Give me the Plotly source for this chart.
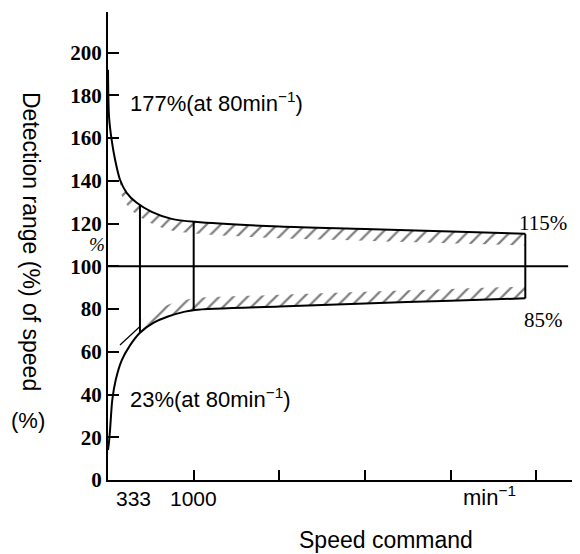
import numpy as np
import plotly.graph_objects as go

# ---- data ----
upper_x = [0, 12, 43, 82, 140, 218, 335, 510, 743, 1015, 2000, 3000, 4000, 4870]
upper_y = [192, 170, 159, 150, 140.5, 134.4, 129.7, 125.5, 122.2, 120.8, 118.6, 117.5, 116.3, 115.2]

lower_x = [0, 12, 25, 50, 90, 160, 257, 373, 529, 700, 898, 1015, 2000, 3000, 4000, 4870]
lower_y = [14, 18, 24, 37.5, 46.8, 56, 63, 68.9, 73.5, 76.5, 78.8, 79.6, 81.2, 82.6, 83.9, 85.0]

divider_x = [373, 1000, 4870]          # vertical boundary lines (speed command)
reference_level = 100                   # 100 % line
reference_x_end = 5370
hatch_upper_start = 140
hatch_lower_start = 373
hatch_band = 5.5                        # hatch band width (% units)
guide_x = [140, 373]
guide_y = [63.2, 71.8]

y_ticks = [0, 20, 40, 60, 80, 100, 120, 140, 160, 180, 200]
x_ticks = [1000, 2000, 3000, 4000, 5000]
x_tick_text = {"333": 292, "1000": 1000}

X_RANGE = [0, 5450]
Y_RANGE = [0, 219]

SANS = "Liberation Sans, Arial, sans-serif"
SERIF = "Liberation Serif, Times New Roman, serif"

fig = go.Figure()

ux = np.array(upper_x, float); uy = np.array(upper_y, float)
lx = np.array(lower_x, float); ly = np.array(lower_y, float)

hatch = dict(shape="/", fgcolor="black", bgcolor="rgba(0,0,0,0)", size=10, solidity=0.22)

# hatched band below the upper curve
m = ux >= hatch_upper_start
fig.add_trace(go.Scatter(x=ux[m], y=uy[m], mode="lines", line=dict(width=0, shape="spline"),
                         hoverinfo="skip", showlegend=False))
fig.add_trace(go.Scatter(x=ux[m], y=uy[m] - hatch_band, mode="lines",
                         line=dict(width=0, shape="spline"), fill="tonexty",
                         fillcolor="rgba(0,0,0,0)", fillpattern=hatch,
                         hoverinfo="skip", showlegend=False))
# hatched band above the lower curve
m2 = lx >= hatch_lower_start
fig.add_trace(go.Scatter(x=lx[m2], y=ly[m2], mode="lines", line=dict(width=0, shape="spline"),
                         hoverinfo="skip", showlegend=False))
fig.add_trace(go.Scatter(x=lx[m2], y=ly[m2] + hatch_band, mode="lines",
                         line=dict(width=0, shape="spline"), fill="tonexty",
                         fillcolor="rgba(0,0,0,0)", fillpattern=hatch,
                         hoverinfo="skip", showlegend=False))

# curves
fig.add_trace(go.Scatter(x=ux, y=uy, mode="lines", line=dict(color="black", width=2, shape="spline", smoothing=0.8),
                         hoverinfo="skip", showlegend=False))
fig.add_trace(go.Scatter(x=lx, y=ly, mode="lines", line=dict(color="black", width=2, shape="spline", smoothing=0.8),
                         hoverinfo="skip", showlegend=False))
# guide line lower left
fig.add_trace(go.Scatter(x=guide_x, y=guide_y, mode="lines", line=dict(color="black", width=1.2),
                         hoverinfo="skip", showlegend=False))
# vertical dividers
for dx in divider_x:
    top = float(np.interp(dx, ux, uy)); bot = float(np.interp(dx, lx, ly))
    fig.add_trace(go.Scatter(x=[dx, dx], y=[bot, top], mode="lines", line=dict(color="black", width=2),
                             hoverinfo="skip", showlegend=False))
# 100 % line
fig.add_trace(go.Scatter(x=[0, reference_x_end], y=[reference_level, reference_level], mode="lines",
                         line=dict(color="black", width=2), hoverinfo="skip", showlegend=False))

# page has an 8px body margin; figure is sized so that it fills the 580x554 window
OFF = 8
L, R, T, B = 108 - OFF, 5, 12 - OFF, 74
W, H = 580 - OFF, 554 - OFF
pw, ph = W - L - R, H - T - B
def px(xp): return (xp - 108) / pw          # page pixel -> paper x
def py(yp): return (480 - yp) / ph          # page pixel -> paper y

ann = []
ann.append(dict(x=233, y=177, xref="x", yref="y", text="177%(at 80min<sup>−1</sup>)", showarrow=False,
                xanchor="left", yanchor="middle", font=dict(family=SANS, size=22, color="black")))
ann.append(dict(x=233, y=38.4, xref="x", yref="y", text="23%(at 80min<sup>−1</sup>)", showarrow=False,
                xanchor="left", yanchor="middle", font=dict(family=SANS, size=22, color="black")))
ann.append(dict(x=4772, y=120.4, xref="x", yref="y", text="115%", showarrow=False,
                xanchor="left", yanchor="middle", font=dict(family=SERIF, size=21, color="black")))
ann.append(dict(x=4831, y=75, xref="x", yref="y", text="85%", showarrow=False,
                xanchor="left", yanchor="middle", font=dict(family=SERIF, size=21, color="black")))
ann.append(dict(x=px(97), y=py(244), xref="paper", yref="paper", text="<i>%</i>", showarrow=False,
                xanchor="center", yanchor="middle", font=dict(family=SERIF, size=19, color="black")))
for t, v in x_tick_text.items():
    ann.append(dict(x=v, y=py(498), xref="x", yref="paper", text=t, showarrow=False,
                    xanchor="center", yanchor="middle", font=dict(family=SANS, size=21, color="black")))
ann.append(dict(x=4457, y=py(496), xref="x", yref="paper", text="min<sup>−1</sup>", showarrow=False,
                xanchor="center", yanchor="middle", font=dict(family=SANS, size=22, color="black")))
ann.append(dict(x=px(386), y=py(540), xref="paper", yref="paper", text="Speed command", showarrow=False,
                xanchor="center", yanchor="middle", font=dict(family=SANS, size=23, color="black")))
ann.append(dict(x=px(31), y=py(241), xref="paper", yref="paper", text="Detection range (%) of speed",
                showarrow=False, textangle=90, xanchor="center", yanchor="middle",
                font=dict(family=SANS, size=23, color="black")))
ann.append(dict(x=px(28), y=py(420), xref="paper", yref="paper", text="(%)", showarrow=False,
                xanchor="center", yanchor="middle", font=dict(family=SANS, size=22, color="black")))

fig.update_layout(
    width=W, height=H, margin=dict(l=L, r=R, t=T, b=B, autoexpand=False),
    paper_bgcolor="white", plot_bgcolor="white", showlegend=False,
    annotations=ann,
    xaxis=dict(range=X_RANGE, showgrid=False, zeroline=False, showline=True, linecolor="black", linewidth=2,
               tickvals=x_ticks, ticks="inside", ticklen=10, tickwidth=2, tickcolor="black",
               showticklabels=False, fixedrange=True),
    yaxis=dict(range=Y_RANGE, showgrid=False, zeroline=False, showline=True, linecolor="black", linewidth=2,
               tickvals=y_ticks, ticks="inside", ticklen=11, tickwidth=2, tickcolor="black",
               tickfont=dict(family=SERIF, size=21, color="black", weight="bold"), fixedrange=True),
)

fig.write_html("out.html")
